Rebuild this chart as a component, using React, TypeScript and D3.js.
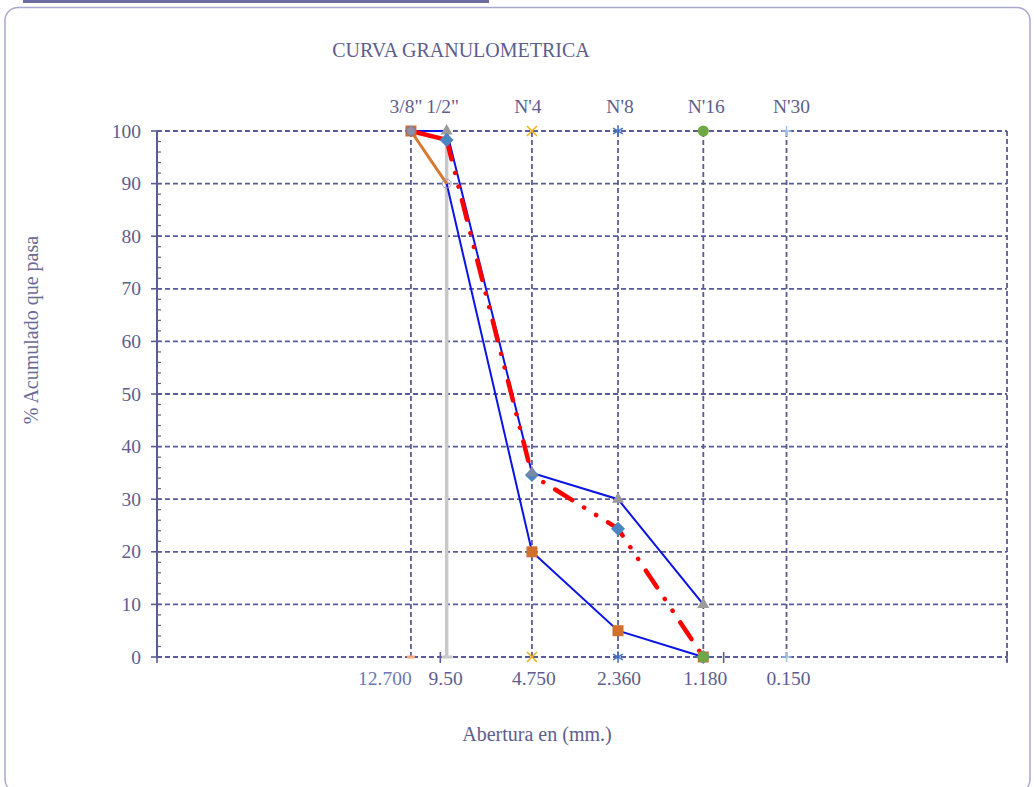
import React from "react";
import * as d3 from "d3";

// ---- data ----
const sieveSizes = [12.7, 9.5, 4.75, 2.36, 1.18, 0.6];
const topLabels = ['3/8"', '1/2"', "N'4", "N'8", "N'16", "N'30"];
const bottomLabels = ["12.700", "9.50", "4.750", "2.360", "1.180", "0.150"];

const curveSizes = [12.7, 9.5, 4.75, 2.36, 1.18];
const sampleValues = [100, 98.3, 34.6, 24.4, 0];
const upperLimit = [100, 100, 35, 30, 10];
const lowerLimit = [100, 90, 20, 5, 0];

const yTicks = [0, 10, 20, 30, 40, 50, 60, 70, 80, 90, 100];
const xDecades = [100, 10, 1, 0.1];

const W = 1034;
const H = 787;
const left = 157, right = 1007, top = 131, bottom = 657;
const textColor = "#5d5d8e";
const gridColor = "#5c5c94";

export default function App() {
  const x = d3.scaleLog().domain([100, 0.1]).range([left, right]);
  const y = d3.scaleLinear().domain([0, 100]).range([bottom, top]);

  const upperPts: [number, number][] = curveSizes.map((s, i) => [x(s), y(upperLimit[i])]);
  const lowerPts: [number, number][] = curveSizes.map((s, i) => [x(s), y(lowerLimit[i])]);
  const samplePts: [number, number][] = curveSizes.map((s, i) => [x(s), y(sampleValues[i])]);
  const line = d3.line();

  const minor = d3.range(0, 101, 2);
  const sq = "M-5.5,-5.5H5.5V5.5H-5.5Z";
  const dia = "M0,-7L7,0L0,7L-7,0Z";
  const tri = "M0,-6L6,4.5H-6Z";
  const star = d3.symbol().type(d3.symbolAsterisk).size(90)() as string;

  const sieveMarker = (i: number, yy: number) => {
    const cx = x(sieveSizes[i]);
    if (i === 2) {
      return (
        <g key={`m${i}-${yy}`} stroke="#f2b21b" strokeWidth={1.6}>
          <line x1={cx - 5} y1={yy - 5} x2={cx + 5} y2={yy + 5} />
          <line x1={cx - 5} y1={yy + 5} x2={cx + 5} y2={yy - 5} />
        </g>
      );
    }
    if (i === 3) {
      return <path key={`m${i}-${yy}`} d={star} transform={`translate(${cx},${yy})`} fill="none" stroke="#4472c4" strokeWidth={1.6} />;
    }
    if (i === 4) {
      return <circle key={`m${i}-${yy}`} cx={cx} cy={yy} r={5.5} fill="#70a844" />;
    }
    if (i === 5) {
      return (
        <g key={`m${i}-${yy}`} stroke="#9dc3e6" strokeWidth={1.5}>
          <line x1={cx - 5} y1={yy} x2={cx + 5} y2={yy} />
          <line x1={cx} y1={yy - 5} x2={cx} y2={yy + 5} />
        </g>
      );
    }
    return null;
  };

  return (
    <svg width={W} height={H} style={{ display: "block", position: "absolute", left: 0, top: 0 }} fontFamily="'Liberation Serif', 'Times New Roman', serif">
      <rect x={0} y={0} width={W} height={H} fill="#ffffff" />
      {/* outer frame */}
      <line x1={23} y1={1.5} x2={489} y2={1.5} stroke="#6d6d9f" strokeWidth={3} />
      <rect x={5} y={7.5} width={1025} height={785} rx={13} fill="none" stroke="#a9a9cf" strokeWidth={1.5} />

      {/* title */}
      <text x={461} y={57} textAnchor="middle" fontSize={20} fill={textColor}>CURVA GRANULOMETRICA</text>

      {/* horizontal grid */}
      {yTicks.map((t) => (
        <line key={`g${t}`} x1={left} x2={right} y1={y(t)} y2={y(t)} stroke={gridColor} strokeWidth={1.8} strokeDasharray="5 3" />
      ))}
      {/* right border */}
      <line x1={right} x2={right} y1={top} y2={bottom + 5} stroke={gridColor} strokeWidth={1.8} strokeDasharray="5 3" />

      {/* sieve vertical drop lines */}
      {sieveSizes.map((s, i) =>
        i === 1 ? (
          <g key={`v${i}`}>
            <line x1={x(s)} x2={x(s)} y1={y(0)} y2={y(100)} stroke="#c8c8c8" strokeWidth={3.5} />
            <line x1={x(s) - 5} x2={x(s) + 6} y1={y(0)} y2={y(0)} stroke="#c8c8c8" strokeWidth={3} />
          </g>
        ) : (
          <line key={`v${i}`} x1={x(s)} x2={x(s)} y1={y(0)} y2={y(100)} stroke={gridColor} strokeWidth={1.8} strokeDasharray="5 3" />
        )
      )}

      {/* y axis */}
      <line x1={left} x2={left} y1={top} y2={bottom} stroke={gridColor} strokeWidth={2} />
      {minor.map((t) => (
        <line key={`mi${t}`} x1={left} x2={left + 4} y1={y(t)} y2={y(t)} stroke={gridColor} strokeWidth={1.2} />
      ))}
      {yTicks.map((t) => (
        <g key={`yt${t}`}>
          <line x1={left - 6} x2={left} y1={y(t)} y2={y(t)} stroke={gridColor} strokeWidth={1.6} />
          <text x={141} y={y(t) + 6.5} textAnchor="end" fontSize={19.5} fill={textColor}>{t}</text>
        </g>
      ))}
      {/* x axis decade ticks */}
      {xDecades.map((d) => (
        <line key={`xt${d}`} x1={x(d)} x2={x(d)} y1={bottom - 5} y2={bottom + 6} stroke={gridColor} strokeWidth={1.6} />
      ))}

      {/* limit curves */}
      <path d={line(upperPts) as string} fill="none" stroke="#0a14e6" strokeWidth={2} />
      <path d={line(lowerPts.slice(1)) as string} fill="none" stroke="#0a14e6" strokeWidth={2} />
      <path d={line(lowerPts.slice(0, 2)) as string} fill="none" stroke="#d57a30" strokeWidth={3} />

      {/* sample curve */}
      <path d={line(samplePts.slice(0, 2)) as string} fill="none" stroke="#ff0000" strokeWidth={4.5} />
      <path d={line(samplePts.slice(1)) as string} fill="none" stroke="#ff0000" strokeWidth={4.5} strokeLinecap="round" strokeDasharray="20 14 0.1 14 0.1 14" />

      {/* markers: triangles (upper limit) */}
      {curveSizes.slice(1).map((s, i) => (
        <path key={`tr${i}`} d={tri} transform={`translate(${x(s)},${y(upperLimit[i + 1]) - 1})`} fill="#9b9b9b" />
      ))}
      {/* squares (lower limit) */}
      {curveSizes.map((s, i) =>
        i === 1 ? null : (
          <path key={`sq${i}`} d={sq} transform={`translate(${x(s)},${y(lowerLimit[i])})`} fill="#d0702c" />
        )
      )}
      {/* gray circles */}
      <circle cx={x(curveSizes[0])} cy={y(lowerLimit[0])} r={4.5} fill="#8f8fa8" stroke="#7a7aa0" strokeWidth={1} />
      <circle cx={x(curveSizes[1])} cy={y(lowerLimit[1])} r={4.5} fill="none" stroke="#9a9ab8" strokeWidth={1} />

      {/* diamonds (sample) */}
      {curveSizes.map((s, i) =>
        i === 0 ? null : (
          <path key={`d${i}`} d={dia} transform={`translate(${x(s)},${y(sampleValues[i])})`} fill="#4a86c0" />
        )
      )}
      {/* triangle at 4.75 on top */}
      <path d={tri} transform={`translate(${x(4.75)},${y(35) - 1})`} fill="#8b8b9b" opacity={0.7} />

      {/* sieve markers top & bottom */}
      {sieveSizes.map((_, i) => sieveMarker(i, y(100)))}
      {sieveSizes.map((_, i) => sieveMarker(i, y(0)))}
      <line x1={x(12.7) - 4} x2={x(12.7) + 4} y1={y(0)} y2={y(0)} stroke="#f4a97a" strokeWidth={3} />

      {/* top labels */}
      {sieveSizes.map((s, i) => {
        const off = [-5, -4, -4, 2, 3, 5][i];
        return (
          <text key={`tl${i}`} x={x(s) + off} y={113} textAnchor="middle" fontSize={19.5} fill={textColor}>{topLabels[i]}</text>
        );
      })}
      {/* bottom labels */}
      {sieveSizes.map((s, i) => {
        const off = [-26, -1, 2, 1, 2, 2][i];
        return (
          <text key={`bl${i}`} x={x(s) + off} y={685} textAnchor="middle" fontSize={19.5} fill={i === 0 ? "#6a78b5" : textColor}>{bottomLabels[i]}</text>
        );
      })}

      {/* axis titles */}
      <text transform={`translate(38,330) rotate(-90)`} textAnchor="middle" fontSize={20} fill="#6a6a98">% Acumulado que pasa</text>
      <text x={537} y={741} textAnchor="middle" fontSize={20} fill={textColor}>Abertura en (mm.)</text>
    </svg>
  );
}
